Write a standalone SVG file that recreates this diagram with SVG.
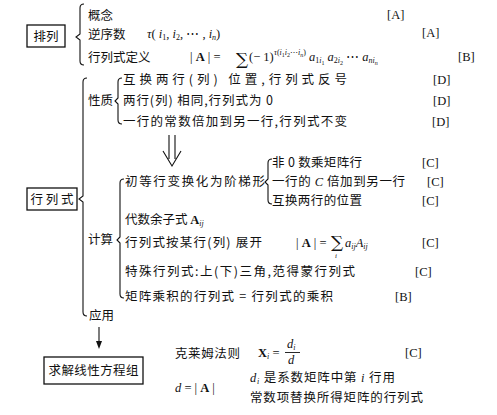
<svg xmlns="http://www.w3.org/2000/svg" width="497" height="415" viewBox="0 0 497 415">
<style>
.t{font-family:"Noto Sans CJK SC","Noto Sans CJK JP",sans-serif;font-size:12.5px;fill:#111}
.m{font-family:"Liberation Serif",serif;font-size:12.5px;fill:#111}
.sum{font-family:"DejaVu Serif",serif;font-size:17px;fill:#111}
.i{font-style:italic}
.b{font-weight:bold}
.s{font-size:8px}
.xs{font-size:6px}
.ln{fill:none;stroke:#111;stroke-width:1.1}
.box{fill:#fff;stroke:#111;stroke-width:1.3}
</style>
<rect width="497" height="415" fill="#fff"/>
<g id="connectors">
<path class="ln" d="M84,4 Q80,4 80,8 L80,34 L76,37 L80,40 L80,61 Q80,65 84,65"/>
<path class="ln" d="M87,78 Q83,78 83,82 L83,196 L79,199 L83,202 L83,312 Q83,316 87,316"/>
<path class="ln" d="M122,78 Q118,78 118,82 L118,98 L115,101 L118,104 L118,120 Q118,124 122,124"/>
<path class="ln" d="M124,179 Q120,179 120,183 L120,237 L117,240 L120,243 L120,294 Q120,298 124,298"/>
<path class="ln" d="M272,159 Q268,159 268,163 L268,179 L265,182 L268,185 L268,200 Q268,204 272,204"/>
<path class="ln" d="M169,135 L169,159 M175,135 L175,159 M163,151 L172,166 L181,151"/>
<line class="ln" x1="99" y1="327" x2="99" y2="342"/>
<polygon points="96,341 102,341 99,349" fill="#111"/>
</g>
<g id="node-pailie">
<rect class="box" x="27" y="25" width="38" height="22"/>
<text class="t" x="46" y="40.5" text-anchor="middle">排列</text>
</g>
<g id="node-gainian">
<text class="t" x="88" y="20">概念</text>
<text class="m" x="387" y="19">[A]</text>
</g>
<g id="node-nixushu">
<text class="t" x="88" y="38.5">逆序数</text>
<text class="m" x="147" y="38"><tspan class="i">τ</tspan>( <tspan class="i">i</tspan><tspan class="s" dy="2">1</tspan><tspan dy="-2">, </tspan><tspan class="i">i</tspan><tspan class="s" dy="2">2</tspan><tspan dy="-2">, ⋯ , </tspan><tspan class="i">i</tspan><tspan class="s i" dy="2">n</tspan><tspan dy="-2">)</tspan></text>
<text class="m" x="422" y="37">[A]</text>
</g>
<g id="node-dingyi">
<text class="t" x="88" y="61.5">行列式定义</text>
<text class="m" x="190" y="61">| <tspan class="b">A</tspan> | = </text>
<text class="sum" x="236" y="65">∑</text>
<text class="m" x="249" y="61">(− 1)</text>
<text class="m s" x="274" y="55"><tspan class="i">τ</tspan>(<tspan class="i">i</tspan><tspan class="xs" dy="1.5">1</tspan><tspan class="i" dy="-1.5">i</tspan><tspan class="xs" dy="1.5">2</tspan><tspan dy="-1.5">⋯</tspan><tspan class="i">i</tspan><tspan class="xs i" dy="1.5">n</tspan><tspan dy="-1.5">)</tspan></text>
<text class="m" x="309" y="61"><tspan class="i">a</tspan><tspan class="s" dy="2">1<tspan class="i">i</tspan></tspan><tspan class="xs" dy="2">1</tspan><tspan class="i" dy="-4"> a</tspan><tspan class="s" dy="2">2<tspan class="i">i</tspan></tspan><tspan class="xs" dy="2">2</tspan><tspan dy="-4"> ⋯ </tspan><tspan class="i">a</tspan><tspan class="s i" dy="2">ni</tspan><tspan class="xs i" dy="2">n</tspan></text>
<text class="m" x="458" y="61">[B]</text>
</g>
<g id="node-hanglieshi">
<rect class="box" x="27" y="188" width="50" height="22"/>
<text class="t" x="52" y="204" text-anchor="middle" textLength="43" lengthAdjust="spacing">行列式</text>
</g>
<g id="node-xingzhi">
<text class="t" x="88" y="105">性质</text>
<text class="t" x="123" y="84" textLength="224" lengthAdjust="spacing">互换两行(列) 位置,行列式反号</text>
<text class="m" x="433" y="84">[D]</text>
<text class="t" x="123" y="105" textLength="150" lengthAdjust="spacing">两行(列) 相同,行列式为 0</text>
<text class="m" x="433" y="105">[D]</text>
<text class="t" x="123" y="126" textLength="224" lengthAdjust="spacing">一行的常数倍加到另一行,行列式不变</text>
<text class="m" x="432" y="126">[D]</text>
</g>
<g id="node-jisuan">
<text class="t" x="88" y="244">计算</text>
<text class="t" x="125" y="186" textLength="140" lengthAdjust="spacing">初等行变换化为阶梯形</text>
<text class="t" x="272" y="167" textLength="90" lengthAdjust="spacing">非 0 数乘矩阵行</text>
<text class="m" x="422" y="167">[C]</text>
<text class="t" x="272" y="186" textLength="133" lengthAdjust="spacing">一行的 <tspan font-family="Liberation Serif" font-style="italic">C</tspan> 倍加到另一行</text>
<text class="m" x="427" y="186">[C]</text>
<text class="t" x="272" y="205" textLength="90" lengthAdjust="spacing">互换两行的位置</text>
<text class="m" x="422" y="205">[C]</text>
<text class="t" x="125" y="224">代数余子式 <tspan font-family="Liberation Serif" font-weight="bold">A</tspan><tspan font-family="Liberation Serif" font-style="italic" font-size="8" dy="2">ij</tspan></text>
<text class="t" x="125" y="247" textLength="137" lengthAdjust="spacing">行列式按某行(列) 展开</text>
<text class="m" x="296" y="247">| <tspan class="b">A</tspan> | = </text>
<text class="sum" x="331" y="248">∑<tspan x="335" y="258" font-family="Liberation Serif" font-style="italic" font-size="7">i</tspan></text>
<text class="m" x="345" y="247"><tspan class="i">a</tspan><tspan class="s i" dy="2">ij</tspan><tspan class="i" dy="-2">A</tspan><tspan class="s i" dy="2">ij</tspan></text>
<text class="m" x="422" y="247">[C]</text>
<text class="t" x="125" y="276" textLength="230" lengthAdjust="spacing">特殊行列式:上(下)三角,范得蒙行列式</text>
<text class="m" x="415" y="276">[C]</text>
<text class="t" x="125" y="301" textLength="208" lengthAdjust="spacing">矩阵乘积的行列式 = 行列式的乘积</text>
<text class="m" x="395" y="301">[B]</text>
</g>
<g id="node-yingyong">
<text class="t" x="89" y="320">应用</text>
</g>
<g id="node-qiujie">
<rect class="box" x="44" y="357" width="99" height="27"/>
<text class="t" x="93.5" y="375" text-anchor="middle" textLength="90" lengthAdjust="spacing">求解线性方程组</text>
</g>
<g id="node-kelaimu">
<text class="t" x="175" y="357.5" textLength="65" lengthAdjust="spacing">克莱姆法则</text>
<text class="m" x="258" y="357"><tspan class="b">X</tspan><tspan class="s i" dy="2">i</tspan><tspan dy="-2"> =</tspan></text>
<text class="m i" x="287" y="348">d<tspan class="s" dy="2">i</tspan></text>
<line x1="285" y1="352.5" x2="300" y2="352.5" stroke="#111" stroke-width="0.9"/>
<text class="m i" x="288" y="364">d</text>
<text class="m" x="405" y="357">[C]</text>
<text class="m" x="175" y="392"><tspan class="i">d</tspan> = | <tspan class="b">A</tspan> |</text>
<text class="t" x="250" y="382" textLength="145" lengthAdjust="spacing"><tspan font-family="Liberation Serif" font-style="italic">d</tspan><tspan font-family="Liberation Serif" font-style="italic" font-size="8" dy="2">i</tspan><tspan dy="-2"> 是系数矩阵中第 </tspan><tspan font-family="Liberation Serif" font-style="italic">i</tspan> 行用</text>
<text class="t" x="250" y="402" textLength="173" lengthAdjust="spacing">常数项替换所得矩阵的行列式</text>
</g>
</svg>
